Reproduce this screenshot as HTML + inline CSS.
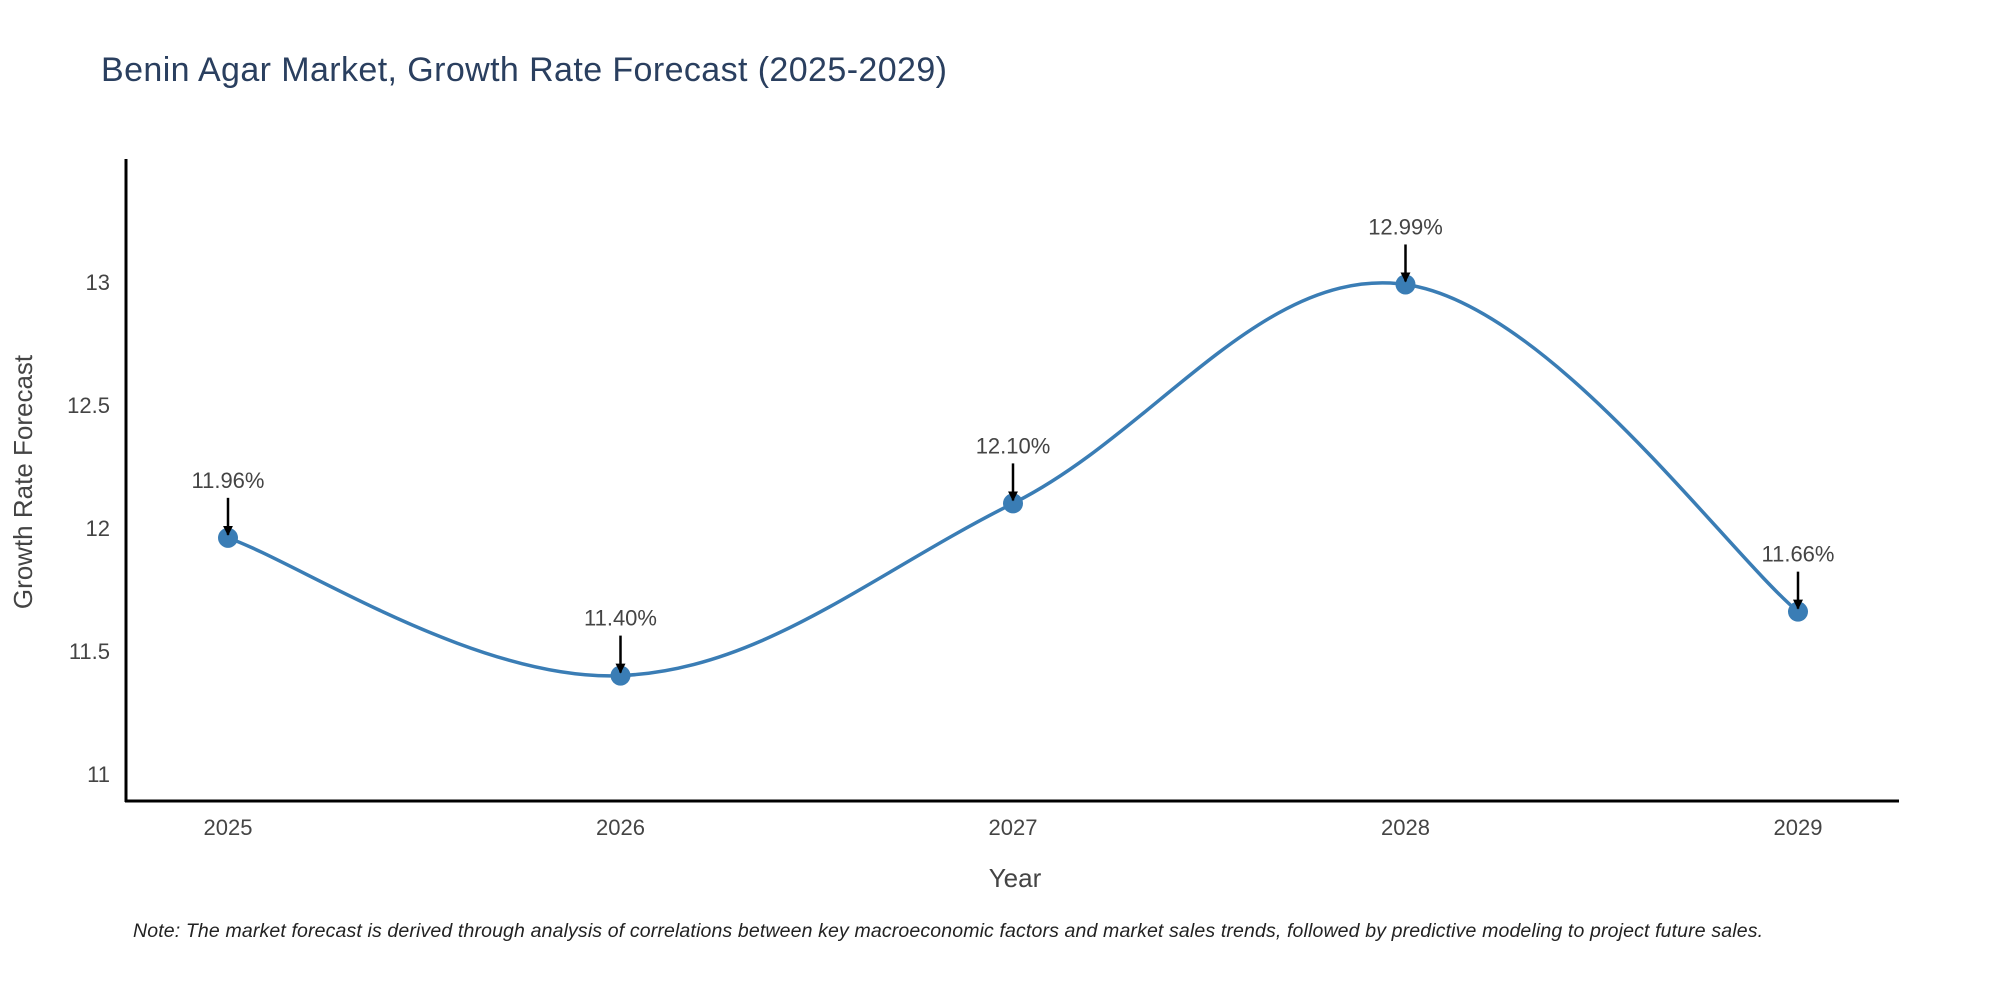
<!DOCTYPE html>
<html><head><meta charset="utf-8"><style>
html,body{margin:0;padding:0;background:#fff;}
svg text{font-family:"Liberation Sans",sans-serif;}
</style></head><body>
<svg id="chart" width="2000" height="1000" viewBox="0 0 2000 1000">
<text x="101" y="81" font-size="34" fill="#2a3f5f" textLength="846">Benin Agar Market, Growth Rate Forecast (2025-2029)</text>
<g id="yticks"></g>
<g id="xticks"></g>
<line x1="126" y1="159" x2="126" y2="802" stroke="#000" stroke-width="3"/>
<line x1="125" y1="801" x2="1899" y2="801" stroke="#000" stroke-width="3"/>
<path id="line" fill="none" stroke="#3a7db5" stroke-width="3.5"/>
<g id="marks"></g>
<text x="1015" y="887" font-size="26" fill="#444" text-anchor="middle">Year</text>
<text transform="translate(32,482) rotate(-90)" font-size="26" fill="#444" text-anchor="middle">Growth Rate Forecast</text>
<text x="133" y="937" font-size="19.5" font-style="italic" fill="#222" textLength="1630">Note: The market forecast is derived through analysis of correlations between key macroeconomic factors and market sales trends, followed by predictive modeling to project future sales.</text>
<defs><marker id="arr" viewBox="0 0 10 10" refX="9" refY="5" markerWidth="4" markerHeight="4" orient="auto"><path d="M0,0 L10,5 L0,10 z" fill="#000"/></marker></defs>
</svg>
<script>
const years = ["2025","2026","2027","2028","2029"];
const values = [11.96, 11.40, 12.10, 12.99, 11.66];
const labels = ["11.96%","11.40%","12.10%","12.99%","11.66%"];
const yTickVals = [11, 11.5, 12, 12.5, 13];
const yTickLabels = ["11","11.5","12","12.5","13"];
const NS="http://www.w3.org/2000/svg";
function xs(i){return 228+i*392.5;}
function ys(v){return 774-(v-11)*246;}
const yt=document.getElementById('yticks');
yTickVals.forEach((v,i)=>{const t=document.createElementNS(NS,'text');


t.setAttribute('x',110);t.setAttribute('y',ys(v)+8);t.setAttribute('font-size','22');t.setAttribute('fill','#444');t.setAttribute('text-anchor','end');t.textContent=yTickLabels[i];yt.appendChild(t);});
const xt=document.getElementById('xticks');
years.forEach((y,i)=>{const t=document.createElementNS(NS,'text');


t.setAttribute('x',xs(i));t.setAttribute('y',835);t.setAttribute('font-size','22');t.setAttribute('fill','#444');t.setAttribute('text-anchor','middle');t.textContent=y;xt.appendChild(t);});
const P=values.map((v,i)=>[xs(i),ys(v)]);
let d='M'+P[0][0]+','+P[0][1];
const k=5.5;
for(let i=0;i<P.length-1;i++){const p0=P[Math.max(0,i-1)],p1=P[i],p2=P[i+1],p3=P[Math.min(P.length-1,i+2)];
const c1=[p1[0]+(p2[0]-p0[0])/k,p1[1]+(p2[1]-p0[1])/k];
const c2=[p2[0]-(p3[0]-p1[0])/k,p2[1]-(p3[1]-p1[1])/k];
d+=' C'+c1[0]+','+c1[1]+' '+c2[0]+','+c2[1]+' '+p2[0]+','+p2[1];}
document.getElementById('line').setAttribute('d',d);
const mk=document.getElementById('marks');
P.forEach((p,i)=>{const c=document.createElementNS(NS,'circle');


c.setAttribute('cx',p[0]);c.setAttribute('cy',p[1]);c.setAttribute('r',10);c.setAttribute('fill','#3a7db5');mk.appendChild(c);
const a=document.createElementNS(NS,'line');


a.setAttribute('x1',p[0]);a.setAttribute('y1',p[1]-40);a.setAttribute('x2',p[0]);a.setAttribute('y2',p[1]-3);a.setAttribute('stroke','#000');a.setAttribute('stroke-width','2.5');a.setAttribute('marker-end','url(#arr)');mk.appendChild(a);
const t=document.createElementNS(NS,'text');


t.setAttribute('x',p[0]);t.setAttribute('y',p[1]-50);t.setAttribute('font-size','22');t.setAttribute('fill','#444');t.setAttribute('text-anchor','middle');t.textContent=labels[i];mk.appendChild(t);});
</script>
</body></html>
